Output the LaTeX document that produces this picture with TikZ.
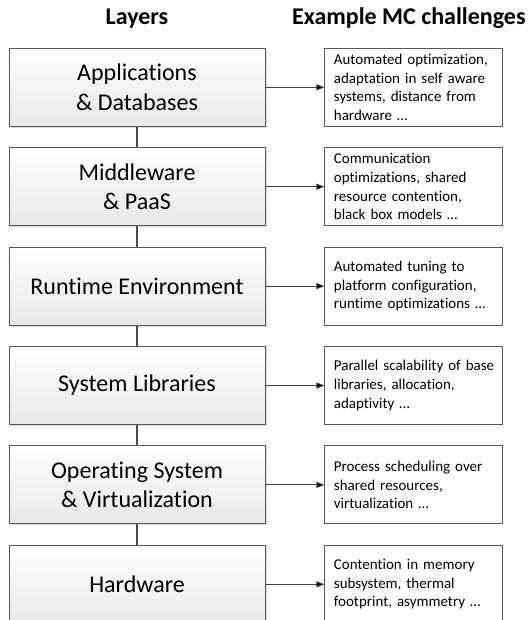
\documentclass[tikz,border=0pt]{standalone}
\usepackage{fontspec}
\setmainfont{Carlito}[Ligatures=NoCommon]
\usepackage{tikz}
\usetikzlibrary{positioning,shadows,arrows.meta}

\begin{document}
\begin{tikzpicture}[node distance=20.5pt and 59pt,
		layer/.style={draw=black!65, line width=0.9pt, top color=white, bottom color=black!9,
			minimum width=256pt, minimum height=78pt, align=center,
			font=\fontsize{24}{29.3}\selectfont,
			drop shadow={shadow xshift=1.5pt, shadow yshift=-1.5pt, opacity=0.3}},
		challenge/.style={draw=black!65, line width=0.9pt, fill=white,
			minimum height=78pt, text width=160pt, inner xsep=9pt, align=left,
			font=\fontsize{15}{18.7}\selectfont},
		heading/.style={font=\fontsize{24}{29}\selectfont\bfseries, anchor=base},
		arr/.style={draw=black!75, line width=0.9pt, -{Triangle[length=8pt,width=6pt]}},
		link/.style={draw=black!70, line width=2pt}]
		\useasboundingbox (0,0) rectangle (530pt,-620pt);

		\node[layer] (l1) at (137pt,-87.3pt) {Applications\\ \& Databases};
		\node[layer] (l2) [below=of l1] {Middleware\\ \& PaaS};
		\node[layer] (l3) [below=of l2] {Runtime Environment};
		\node[layer] (l4) [below=of l3] {System Libraries};
		\node[layer] (l5) [below=of l4] {Operating System\\ \& Virtualization};
		\node[layer] (l6) [below=of l5] {Hardware};

		\node[challenge] (c1) [right=of l1] {Automated optimization,\\ adaptation in self aware\\ systems, distance from\\ hardware \dots};
		\node[challenge] (c2) [right=of l2] {Communication\\ optimizations, shared\\ resource contention,\\ black box models \dots};
		\node[challenge] (c3) [right=of l3] {Automated tuning to\\ platform configuration,\\ runtime optimizations \dots};
		\node[challenge] (c4) [right=of l4] {\mbox{Parallel scalability of base}\\ libraries, allocation,\\ adaptivity \dots};
		\node[challenge] (c5) [right=of l5] {Process scheduling over\\ shared resources,\\ virtualization \dots};
		\node[challenge] (c6) [right=of l6] {Contention in memory\\ subsystem, thermal\\ footprint, asymmetry \dots};

		\node[heading] (h1) [above=23pt of l1, anchor=base] {Layers};
		\node[heading] (h2) [above=23pt of c1, anchor=base, xshift=-5pt] {Example MC challenges};

		\path[link]
		(l1) edge (l2)
		(l2) edge (l3)
		(l3) edge (l4)
		(l4) edge (l5)
		(l5) edge (l6);
		\path[arr]
		(l1) edge (c1)
		(l2) edge (c2)
		(l3) edge (c3)
		(l4) edge (c4)
		(l5) edge (c5)
		(l6) edge (c6);
		\end{tikzpicture}
\end{document}
